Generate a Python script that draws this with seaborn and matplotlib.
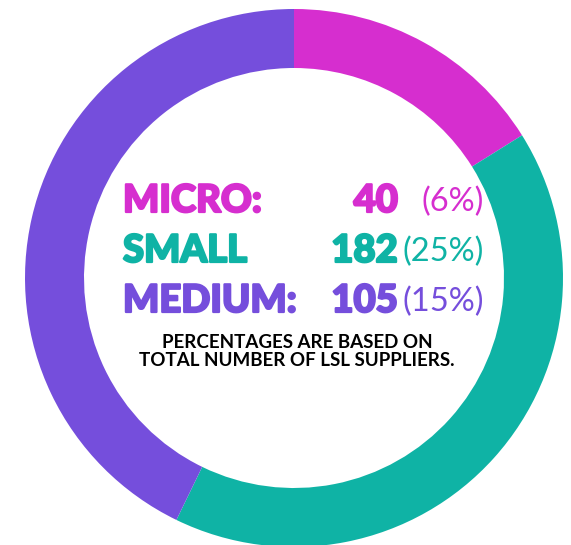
import matplotlib
matplotlib.use("Agg")
import matplotlib.pyplot as plt
import matplotlib.patheffects as pe
import seaborn as sns

# supplier counts by size
sizes = ["MICRO:", "SMALL", "MEDIUM:"]
counts = [40, 182, 105]
pct_labels = ["(6%)", "(25%)", "(15%)"]
# share of the ring each segment takes in the picture (percent)
ring_share = [16.1, 41.1, 42.8]
colors = ["#D62ECF", "#0FB3A5", "#754EDC"]

sns.set_theme(style="white")
plt.rcParams["font.family"] = ["Lato", "DejaVu Sans"]

fig = plt.figure(figsize=(5.71, 5.45), dpi=100)
ax = fig.add_axes([0, 0, 1, 1])

cx, cy = 294, 545 - 278
ax.pie(ring_share, colors=colors, startangle=90, counterclock=False,
       radius=269, center=(cx, cy), frame=True,
       wedgeprops=dict(width=59, linewidth=0))
ax.set_xlim(0, 571)
ax.set_ylim(0, 545)
ax.set_aspect("equal")
ax.axis("off")

row_y = [545 - 201, 545 - 251, 545 - 301]
for i in range(len(sizes)):
    thick = [pe.withStroke(linewidth=1.6, foreground=colors[i])]
    ax.text(123, row_y[i], sizes[i], color=colors[i], fontsize=27.5,
            fontweight="black", ha="left", va="center", path_effects=thick)
    ax.text(398, row_y[i], str(counts[i]), color=colors[i], fontsize=27.5,
            fontweight="black", ha="right", va="center", path_effects=thick)
    ax.text(484, row_y[i] - 1, pct_labels[i], color=colors[i], fontsize=23.5,
            fontweight="normal", ha="right", va="center")

ax.text(297, 545 - 343, "PERCENTAGES ARE BASED ON", color="black",
        fontsize=13.5, fontweight="bold", ha="center", va="center")
ax.text(297, 545 - 361, "TOTAL NUMBER OF LSL SUPPLIERS.", color="black",
        fontsize=13.5, fontweight="bold", ha="center", va="center")

fig.savefig("out.png", dpi=100)
